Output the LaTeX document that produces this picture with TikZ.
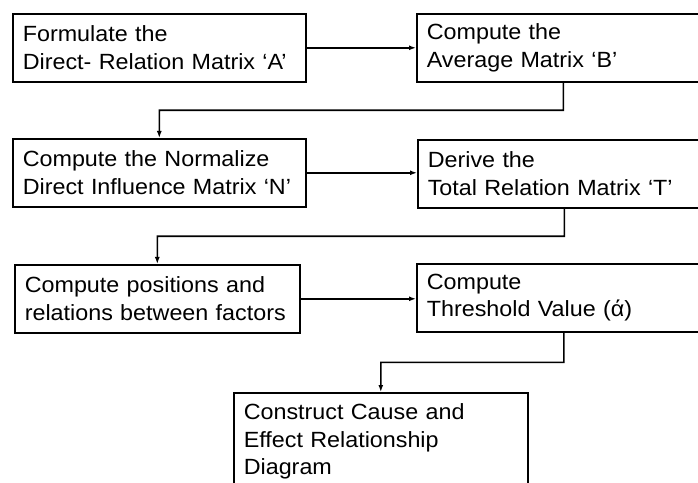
\documentclass[tikz,border=0pt]{standalone}
\usepackage{fontspec}
\setmainfont{Liberation Sans}[FakeStretch=1.06]
\usetikzlibrary{calc,
	positioning,
	arrows.meta}
\newcommand{\stepfont}{\fontsize{22}{27.5}\selectfont\hyphenpenalty=10000\relax}

\begin{document}
\begin{tikzpicture}[x=1pt, y=1pt,
	stepbox/.style={draw, rectangle, line width=1.6pt, anchor=north west, align=left,
		inner xsep=10pt, inner ysep=0pt, minimum height=68pt, text width=273pt,
		font=\stepfont},
	flow/.style={line width=1.6pt, -{Latex[length=7pt,width=5pt]}}]
	\clip (0,0) rectangle (698,482);
	% row 1
	\node[stepbox] (dirrel) at (12,469) {Formulate the\\Direct- Relation Matrix ‘A’};
	\node[stepbox] (avg) at (416,469) {Compute the\\Average Matrix ‘B’};
	% row 2
	\node[stepbox] (norm) at (12,344) {Compute the Normalize\\Direct Influence Matrix ‘N’};
	\node[stepbox] (total) at (417,343) {Derive the\\Total Relation Matrix ‘T’};
	% row 3
	\node[stepbox, text width=265pt] (pos) at (14,218) {Compute positions and\\relations between factors};
	\node[stepbox, text width=274pt] (thresh) at (416,219) {Compute\\Threshold Value (ά)};
	% last step
	\node[stepbox, text width=274pt, minimum height=98pt] (diag) at (233,90) {Construct Cause and\\Effect Relationship\\Diagram};

	\draw[flow] (dirrel.east) -- (dirrel.east -| avg.west);
	\draw[flow] (norm.east) -- (norm.east -| total.west);
	\draw[flow] (pos.east) -- (pos.east -| thresh.west);
	\draw[flow] (avg.south) -- ($(avg.south)!0.5!(avg.south |- norm.north)$) -| (norm.north);
	\draw[flow] (total.south) -- ($(total.south)!0.5!(total.south |- pos.north)$) -| (pos.north);
	\draw[flow] (thresh.south) -- ($(thresh.south)!0.5!(thresh.south |- diag.north)$) -| (diag.north);
\end{tikzpicture}
\end{document}
